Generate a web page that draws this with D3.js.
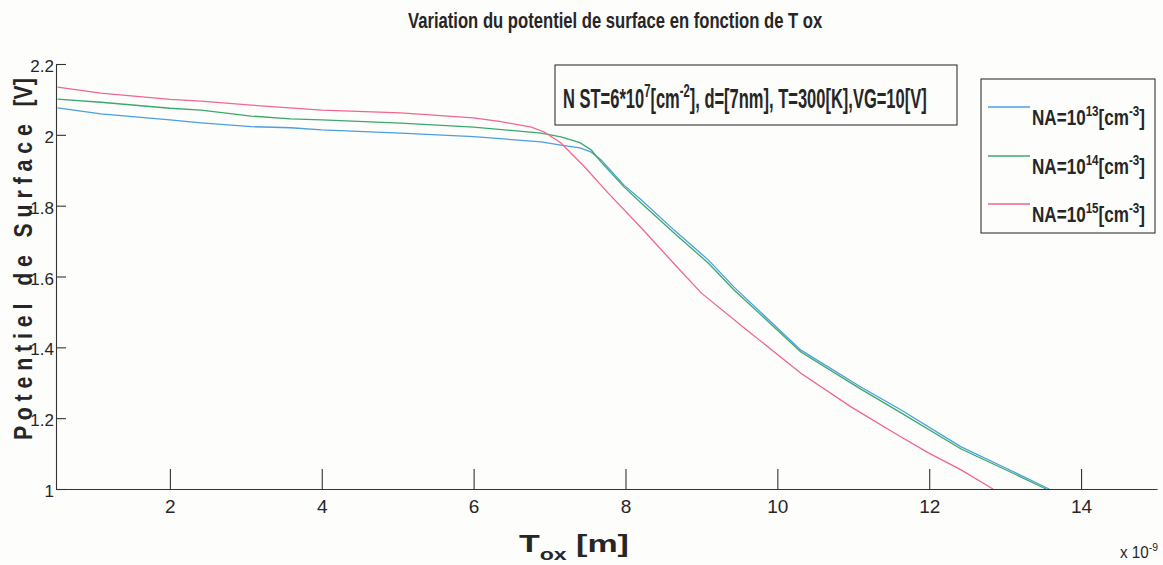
<!DOCTYPE html>
<html>
<head>
<meta charset="utf-8">
<script src="https://cdn.jsdelivr.net/npm/d3@7"></script>
<style>
  html, body { margin: 0; padding: 0; background: #fdfdfc; }
  svg text { font-family: 'Liberation Sans Narrow', 'Liberation Sans', Arial, sans-serif; fill: #262626; white-space: pre; }
</style>
</head>
<body>
<svg id="chart" width="1163" height="565"></svg>
<script>
// Oxide thickness ticks (x 1e-9 m) and surface-potential ticks (V)
const toxTicks = [2, 4, 6, 8, 10, 12, 14];
const potTicks = [1, 1.2, 1.4, 1.6, 1.8, 2, 2.2];
const potTickLabels = ["1", "1.2", "1.4", "1.6", "1.8", "2", "2.2"];

// Doping exponents of NA (cm^-3) and line colours
const naExponents = ["13", "14", "15"];
const naColors = ["#4a9fe0", "#3aa86a", "#f0668e"];

// NA = 1e13 cm^-3
const toxNA13 = [0.52, 1.09, 2.0, 2.41, 3.07, 3.59, 4.0, 5.04, 6.0, 6.89, 7.15, 7.4, 7.55, 7.68, 7.98, 8.21, 8.64, 9.09, 9.43, 10.31, 11.10, 11.63, 12.42, 13.0, 13.58];
const vsNA13  = [2.076, 2.059, 2.042, 2.034, 2.023, 2.020, 2.014, 2.005, 1.995, 1.980, 1.971, 1.963, 1.951, 1.929, 1.858, 1.816, 1.731, 1.647, 1.570, 1.392, 1.288, 1.223, 1.119, 1.060, 1.0];

// NA = 1e14 cm^-3
const toxNA14 = [0.52, 1.09, 2.0, 2.41, 3.07, 3.59, 4.0, 5.04, 6.0, 6.89, 7.15, 7.4, 7.55, 7.68, 7.98, 8.21, 8.64, 9.09, 9.43, 10.31, 11.10, 11.63, 12.42, 13.0, 13.54];
const vsNA14  = [2.101, 2.092, 2.075, 2.070, 2.053, 2.045, 2.042, 2.033, 2.022, 2.005, 1.994, 1.978, 1.957, 1.923, 1.853, 1.807, 1.723, 1.638, 1.562, 1.387, 1.282, 1.215, 1.113, 1.055, 1.0];

// NA = 1e15 cm^-3
const toxNA15 = [0.52, 1.09, 2.0, 2.41, 3.07, 4.0, 5.04, 6.0, 6.36, 6.76, 6.93, 7.15, 7.45, 7.77, 8.21, 8.64, 9.0, 9.65, 10.31, 10.97, 11.63, 11.99, 12.42, 12.84];
const vsNA15  = [2.135, 2.118, 2.100, 2.095, 2.084, 2.070, 2.062, 2.048, 2.037, 2.022, 2.008, 1.977, 1.912, 1.836, 1.737, 1.636, 1.553, 1.440, 1.327, 1.232, 1.147, 1.102, 1.054, 1.0];

const series = [
  { tox: toxNA13, vs: vsNA13 },
  { tox: toxNA14, vs: vsNA14 },
  { tox: toxNA15, vs: vsNA15 }
];

const svg = d3.select("#chart");
const axisColor = "#333";

const x = d3.scaleLinear().domain([0.5, 15]).range([56, 1157]);
const y = d3.scaleLinear().domain([1, 2.2]).range([489, 64]);

// Curves
const line = d3.line().x(d => x(d[0])).y(d => y(d[1]));
series.forEach((s, i) => {
  const pts = s.tox.map((t, k) => [t, s.vs[k]]);
  svg.append("path")
    .attr("d", line(pts))
    .attr("fill", "none")
    .attr("stroke", naColors[i])
    .attr("stroke-width", 1.3);
});

// Axes (ticks pointing inward)
const xAxis = d3.axisBottom(x).tickValues(toxTicks)
  .tickSizeInner(-20).tickSizeOuter(0).tickPadding(11)
  .tickFormat(d3.format("d"));
const gx = svg.append("g").attr("transform", "translate(0,489)").call(xAxis);
gx.selectAll("text").attr("font-size", 19).style("fill", "#262626");

const yAxis = d3.axisLeft(y).tickValues(potTicks)
  .tickSizeInner(-10).tickSizeOuter(0).tickPadding(2)
  .tickFormat((d, i) => potTickLabels[i]);
const gy = svg.append("g").attr("transform", "translate(56,0)").call(yAxis);
gy.selectAll("text").attr("font-size", 17).attr("dy", "0.45em").style("fill", "#262626");

[gx, gy].forEach(g => {
  g.attr("font-family", null);
  g.selectAll("path, line").attr("stroke", axisColor).attr("stroke-width", 1.1);
});

// Text helper: pieces with optional superscript / subscript, squeezed to a width
function richText(parent, x0, y0, size, parts, width, weight) {
  const g = parent.append("g").attr("transform", `translate(${x0},${y0})`);
  const t = g.append("text").attr("font-size", size).attr("font-weight", weight || "bold");
  let shift = 0;
  parts.forEach(p => {
    const target = p.sup ? -0.42 * size : (p.sub ? 0.32 * size : 0);
    t.append("tspan").text(p.t)
      .attr("dy", target - shift)
      .attr("font-size", (p.sup || p.sub) ? size * 0.68 : size);
    shift = target;
  });
  if (width) {
    const w = t.node().getBBox().width;
    g.attr("transform", `translate(${x0},${y0}) scale(${width / w},1)`);
  }
  return g;
}

// Title
richText(svg, 408, 28, 22, [{ t: "Variation du potentiel de surface en fonction de T ox" }], 415);

// Parameter box
svg.append("rect").attr("x", 555).attr("y", 65).attr("width", 402).attr("height", 60)
  .attr("fill", "none").attr("stroke", axisColor).attr("stroke-width", 1.1);
richText(svg, 563, 108, 27, [
  { t: "N ST=6*10" }, { t: "7", sup: true }, { t: "[cm" }, { t: "-2", sup: true },
  { t: "], d=[7nm], T=300[K],VG=10[V]" }
], 364);

// Legend
svg.append("rect").attr("x", 981).attr("y", 79).attr("width", 174).attr("height", 154)
  .attr("fill", "none").attr("stroke", axisColor).attr("stroke-width", 1.1);
const legendRows = [107, 156, 204];
naExponents.forEach((e, i) => {
  const ly = legendRows[i];
  svg.append("line").attr("x1", 988).attr("x2", 1030).attr("y1", ly).attr("y2", ly)
    .attr("stroke", naColors[i]).attr("stroke-width", 1.3);
  richText(svg, 1032, ly + 18, 22, [
    { t: "NA=10" }, { t: e, sup: true }, { t: "[cm" }, { t: "-3", sup: true }, { t: "]" }
  ], 113);
});

// Axis titles
richText(svg, 519, 552, 24, [{ t: "T" }, { t: "ox", sub: true }, { t: " [m]" }], 110);
richText(svg, 1120, 558, 16, [{ t: "x 10" }, { t: "-9", sup: true }], 38, "normal");

const yl = svg.append("g").attr("transform", "translate(32,440) rotate(-90)");
richText(yl, 0, 0, 25, [{ t: "P o t e n t i e l   d e   S u r f a c e   [V]" }], 362);
</script>
</body>
</html>
